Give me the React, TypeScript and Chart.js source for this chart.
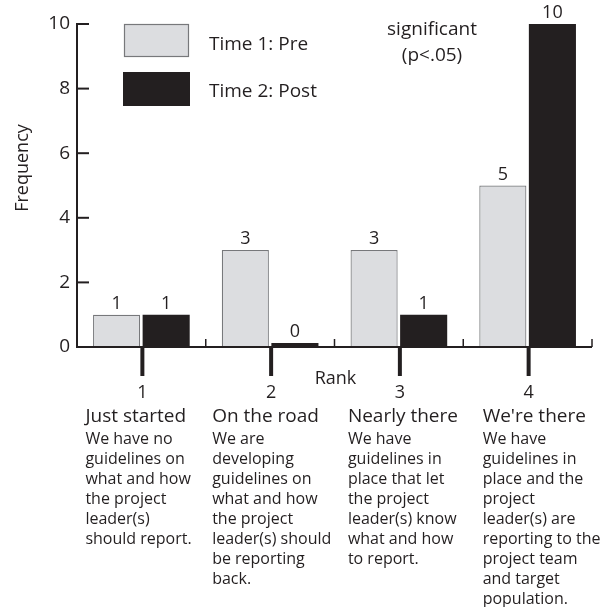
import React, { useEffect, useRef } from "react";
import { Chart, registerables } from "chart.js";

Chart.register(...registerables);

// ---------- data ----------
const ranks = ["1", "2", "3", "4"];
const preValues = [1, 3, 3, 5];
const postValues = [1, 0, 1, 10];
const seriesLabels = ["Time 1: Pre", "Time 2: Post"];
const yTicks = [0, 2, 4, 6, 8, 10];
const rankTitles = ["Just started", "On the road", "Nearly there", "We're there"];
const rankDescriptions = [
  ["We have no", "guidelines on", "what and how", "the project", "leader(s)", "should report."],
  ["We are", "developing", "guidelines on", "what and how", "the project", "leader(s) should", "be reporting", "back."],
  ["We have", "guidelines in", "place that let", "the project", "leader(s) know", "what and how", "to report."],
  ["We have", "guidelines in", "place and the", "project", "leader(s) are", "reporting to the", "project team", "and target", "population."],
];
const xAxisTitle = "Rank";
const yAxisTitle = "Frequency";
const noteLines = ["significant", "(p<.05)"];

// ---------- styles ----------
const FONT = '"Open Sans", sans-serif';
const INK = "#231f20";
const PRE_FILL = "#dcdde0";
const PRE_BORDER = "#77787b";
// left edge of each description column, relative to its category centre (px)
const DESC_COLUMN_SHIFT = [-56, -58, -51, -45];

const overlay = {
  id: "overlay",
  afterDatasetsDraw(chart: any) {
    const { ctx, chartArea, scales } = chart;
    const x = scales.x;
    const y = scales.y;
    const left = chartArea.left;
    const right = chartArea.right;
    const bottom = y.getPixelForValue(0);
    const top = y.getPixelForValue(10);
    const catW = x.getPixelForValue(1) - x.getPixelForValue(0);

    const line = (x1: number, y1: number, x2: number, y2: number, w: number) => {
      ctx.lineWidth = w;
      ctx.beginPath();
      ctx.moveTo(x1, y1);
      ctx.lineTo(x2, y2);
      ctx.stroke();
    };

    ctx.save();
    ctx.strokeStyle = INK;
    ctx.fillStyle = INK;
    ctx.lineCap = "butt";

    // y axis
    line(left, top - 1, left, bottom + 1, 2);
    yTicks.forEach((v) => {
      const py = y.getPixelForValue(v);
      line(left, py, left + 12, py, 2);
    });
    // x axis
    line(left - 1, bottom, right, bottom, 2);
    ranks.forEach((_, i) => {
      const cx = x.getPixelForValue(i);
      const bx = cx + catW / 2;
      line(bx, bottom, bx, bottom - 8, 1.5);
      line(cx + 1, bottom, cx + 1, bottom + 29, 4);
    });

    // value labels
    ctx.font = `18px ${FONT}`;
    ctx.textAlign = "center";
    ctx.textBaseline = "alphabetic";
    chart.data.datasets.forEach((ds: any, di: number) => {
      const meta = chart.getDatasetMeta(di);
      meta.data.forEach((el: any, i: number) => {
        ctx.fillText(String(ds.data[i]), el.x, el.y - 6);
      });
    });

    // rank numbers
    ctx.textBaseline = "middle";
    ranks.forEach((r, i) => {
      ctx.fillText(r, x.getPixelForValue(i) + 1, 393);
    });
    // x axis title
    ctx.fillText(xAxisTitle, (left + right) / 2 + 1, 379);

    // descriptions
    ctx.textAlign = "left";
    rankTitles.forEach((t, i) => {
      const lx = x.getPixelForValue(i) + DESC_COLUMN_SHIFT[i];
      ctx.font = `19px ${FONT}`;
      ctx.fillText(t, lx, 417);
      ctx.font = `16px ${FONT}`;
      rankDescriptions[i].forEach((l, k) => {
        ctx.fillText(l, lx, 439 + k * 20);
      });
    });

    // legend
    const ds = chart.data.datasets;
    ctx.fillStyle = ds[0].backgroundColor;
    ctx.fillRect(124, 24, 65, 33);
    ctx.strokeStyle = ds[0].borderColor;
    ctx.lineWidth = 1.2;
    ctx.strokeRect(124.5, 24.5, 64, 32);
    ctx.fillStyle = ds[1].backgroundColor;
    ctx.fillRect(123, 72, 67, 34);
    ctx.fillStyle = INK;
    ctx.font = `19px ${FONT}`;
    ctx.textBaseline = "middle";
    ctx.fillText(seriesLabels[0], 209, 45);
    ctx.fillText(seriesLabels[1], 209, 92);

    // note
    ctx.textAlign = "center";
    noteLines.forEach((l, k) => ctx.fillText(l, 432, 30 + k * 26));

    // y axis title
    ctx.font = `18px ${FONT}`;
    ctx.save();
    ctx.translate(23, 168);
    ctx.rotate(-Math.PI / 2);
    ctx.fillText(yAxisTitle, 0, 0);
    ctx.restore();

    ctx.restore();
  },
};

export default function App() {
  const ref = useRef<HTMLCanvasElement | null>(null);
  useEffect(() => {
    if (!ref.current) return;
    const chart = new Chart(ref.current, {
      type: "bar",
      data: {
        labels: ranks,
        datasets: [
          {
            label: seriesLabels[0],
            data: preValues,
            backgroundColor: PRE_FILL,
            borderColor: PRE_BORDER,
            borderWidth: 1.2,
            categoryPercentage: 0.77,
            barPercentage: 0.95,
          },
          {
            label: seriesLabels[1],
            data: postValues,
            backgroundColor: INK,
            borderWidth: 0,
            minBarLength: 4,
            categoryPercentage: 0.77,
            barPercentage: 0.95,
          },
        ],
      },
      options: {
        responsive: false,
        animation: false,
        layout: { padding: { left: 0, right: 16, top: 24, bottom: 260 } },
        plugins: { legend: { display: false }, tooltip: { enabled: false } },
        scales: {
          x: { display: false },
          y: {
            min: 0,
            max: 10,
            grid: { display: false, drawTicks: false },
            border: { display: false },
            ticks: {
              stepSize: 2,
              padding: 7,
              color: INK,
              font: { family: FONT, size: 19 },
            },
            afterFit: (s: any) => {
              s.width = 77;
            },
          },
        },
      },
      plugins: [overlay],
    });
    return () => chart.destroy();
  }, []);
  return (
    <div style={{ position: "absolute", left: 0, top: 0, width: 608, height: 607, background: "#fff" }}>
      <canvas ref={ref} width={608} height={607} style={{ display: "block" }} />
    </div>
  );
}
